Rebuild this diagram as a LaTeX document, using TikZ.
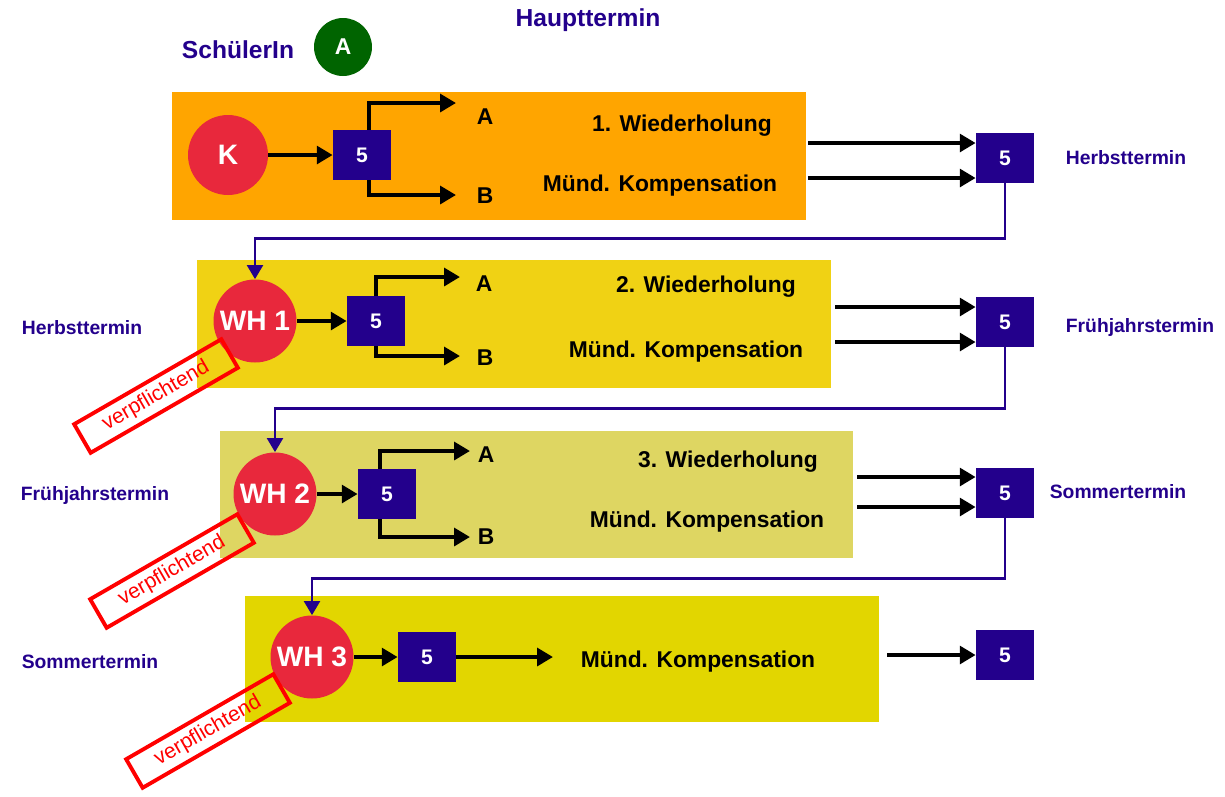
\documentclass[tikz,border=0pt]{standalone}
\usepackage{fontspec}
\setmainfont{Liberation Sans}
\usetikzlibrary{arrows.meta}
\definecolor{hblue}{RGB}{35,0,140}
\definecolor{hred}{RGB}{232,40,60}
\definecolor{hgreen}{RGB}{0,100,0}
\definecolor{bandone}{RGB}{255,165,0}
\definecolor{bandtwo}{RGB}{240,210,20}
\definecolor{bandthree}{RGB}{222,214,98}
\definecolor{bandfour}{RGB}{226,214,0}
\begin{document}
\begin{tikzpicture}[x=0.02cm,y=-0.02cm,
    ball/.style={circle,fill=hred,inner sep=0pt,minimum size=1.66cm,text=white,font=\bfseries\fontsize{16}{18}\selectfont},
    five/.style={fill=hblue,inner sep=0pt,minimum width=1.16cm,minimum height=1cm,text=white,font=\bfseries\fontsize{12}{14}\selectfont},
    lbl/.style={font=\bfseries\fontsize{13}{15}\selectfont},
    term/.style={text=hblue,font=\bfseries\fontsize{11}{13}\selectfont},
    stamp/.style={draw=red,line width=2.2pt,text=red,rotate=30,inner sep=0pt,minimum width=3.4cm,minimum height=0.66cm,font=\fontsize{12}{14}\selectfont},
    arr/.style={black,line width=2.4pt,-{Triangle[length=9pt,width=10pt]}},
    link/.style={hblue,line width=1.6pt,-{Triangle[length=8pt,width=9pt]}}]
    \useasboundingbox (0,0) rectangle (1225,796);
    \fill[bandone] (172,92) rectangle (806,220);
    \fill[bandtwo] (197,260) rectangle (831,388);
    \fill[bandthree] (220,431) rectangle (853,558);
    \fill[bandfour] (245,596) rectangle (879,722);

    \node[text=hblue,font=\bfseries\fontsize{14}{16}\selectfont] (haupt) at (588,20) {Haupttermin};
    \node[text=hblue,font=\bfseries\fontsize{14}{16}\selectfont] (schueler) at (238,50) {SchülerIn};
    \node[circle,fill=hgreen,inner sep=0pt,minimum size=1.16cm,text=white,font=\bfseries\fontsize{13}{15}\selectfont] (ga) at (343,47) {A};

    \node[ball,minimum size=1.6cm] (k) at (228,155) {K};
    \node[ball] (w1) at (255,321) {WH 1};
    \node[ball] (w2) at (275,494) {WH 2};
    \node[ball] (w3) at (312,657) {WH 3};

    \node[five] (s1) at (362,155) {5};
    \node[five] (s2) at (376,321) {5};
    \node[five] (s3) at (387,494) {5};
    \node[five] (s4) at (427,657) {5};
    \node[five] (r1) at (1005,158) {5};
    \node[five] (r2) at (1005,322) {5};
    \node[five] (r3) at (1005,493) {5};
    \node[five] (r4) at (1005,655) {5};

    \begin{scope}[every node/.style={lbl}]
      \node (a1) at (485,117) {A};
      \node (b1) at (485,196) {B};
      \node (a2) at (484,284) {A};
      \node (b2) at (485,358) {B};
      \node (a3) at (486,455) {A};
      \node (b3) at (486,537) {B};
      \node (wh1) at (682,126) {1. Wiederholung};
      \node (mk1) at (660,186) {Münd. Kompensation};
      \node (wh2) at (706,287) {2. Wiederholung};
      \node (mk2) at (686,352) {Münd. Kompensation};
      \node (wh3) at (728,462) {3. Wiederholung};
      \node (mk3) at (707,522) {Münd. Kompensation};
      \node (mk4) at (698,662) {Münd. Kompensation};
    \end{scope}

    \begin{scope}[every node/.style={term}]
      \node (tr1) at (1126,158) {Herbsttermin};
      \node (tr2) at (1140,327) {Frühjahrstermin};
      \node (tr3) at (1118,492) {Sommertermin};
      \node (tl1) at (82,328) {Herbsttermin};
      \node (tl2) at (95,495) {Frühjahrstermin};
      \node (tl3) at (90,662) {Sommertermin};
    \end{scope}

    \coordinate (ua1) at (456,103);
    \coordinate (ub1) at (456,195);
    \coordinate (ua2) at (460,277);
    \coordinate (ub2) at (460,356);
    \coordinate (ua3) at (470,451);
    \coordinate (ub3) at (470,537);
    \coordinate (u4) at (553,657);
    \coordinate (h1) at (808,143);
    \coordinate (g1) at (808,178);
    \coordinate (h2) at (835,307);
    \coordinate (g2) at (835,342);
    \coordinate (h3) at (857,477);
    \coordinate (g3) at (857,507);
    \coordinate (h4) at (887,655);

    \begin{scope}[every edge/.style={draw,arr}]
      \path (k) edge (s1);
      \path (w1) edge (s2);
      \path (w2) edge (s3);
      \path (w3) edge (s4);
      \path (s4) edge (u4);
      \path (h1) edge (h1 -| r1.west);
      \path (g1) edge (g1 -| r1.west);
      \path (h2) edge (h2 -| r2.west);
      \path (g2) edge (g2 -| r2.west);
      \path (h3) edge (h3 -| r3.west);
      \path (g3) edge (g3 -| r3.west);
      \path (h4) edge (h4 -| r4.west);
    \end{scope}

    \draw[arr] ([xshift=4pt]s1.north) |- (ua1);
    \draw[arr] ([xshift=4pt]s1.south) |- (ub1);
    \draw[arr] (s2.north) |- (ua2);
    \draw[arr] (s2.south) |- (ub2);
    \draw[arr] ([xshift=-4pt]s3.north) |- (ua3);
    \draw[arr] ([xshift=-4pt]s3.south) |- (ub3);

    \draw[link] (r1.south) -- ++(0,55) -| (w1.north);
    \draw[link] (r2.south) -- ++(0,61) -| (w2.north);
    \draw[link] (r3.south) -- ++(0,60) -| (w3.north);

    \node[stamp] (v1) at (156,396) {verpflichtend};
    \node[stamp] (v2) at (172,571) {verpflichtend};
    \node[stamp] (v3) at (208,731) {verpflichtend};
\end{tikzpicture}
\end{document}
